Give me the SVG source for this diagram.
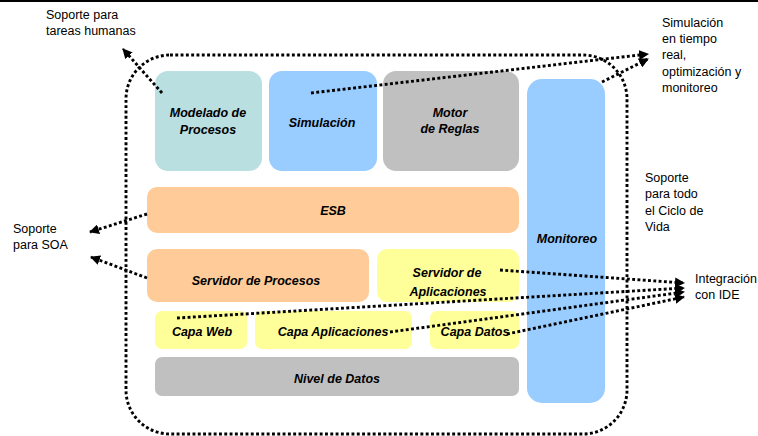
<svg xmlns="http://www.w3.org/2000/svg" width="758" height="436" viewBox="0 0 758 436">
  <style>
    .node { stroke: none; }
    .teal { fill: #b9dfe0; }
    .blue { fill: #99ccff; }
    .grey { fill: #c0c0c0; }
    .orange { fill: #ffcc99; }
    .yellow { fill: #ffff99; }
    .nt { font-family: "Liberation Sans", Arial, sans-serif; font-size: 12.5px; font-weight: bold; font-style: italic; fill: #000; text-anchor: middle; }
    .lbl { font-family: "Liberation Sans", Arial, sans-serif; font-size: 12.5px; fill: #000; }
    .dot { fill: none; stroke: #000; stroke-width: 2.9; stroke-dasharray: 2.9 2.4; }
  </style>
  <defs>
    <marker id="head" viewBox="0 0 10 10" refX="9" refY="5" markerUnits="userSpaceOnUse" markerWidth="10" markerHeight="10" orient="auto">
      <path d="M0,0 L10,5 L0,10 z" fill="#000"/>
    </marker>
  </defs>

  <rect x="0" y="0" width="758" height="436" fill="#fff"/>
  <rect x="0" y="0" width="758" height="2" fill="#000"/>

  <!-- lifecycle boundary -->
  <rect class="dot" x="126" y="55" width="501" height="379" rx="44" ry="44"/>

  <g id="modelado">
    <rect class="node teal" x="155" y="71" width="107" height="100" rx="13"/>
    <text class="nt" x="208" y="117">Modelado de</text>
    <text class="nt" x="208" y="134">Procesos</text>
  </g>
  <g id="simulacion">
    <rect class="node blue" x="269" y="71" width="108" height="100" rx="13"/>
    <text class="nt" x="322" y="127">Simulación</text>
  </g>
  <g id="motor">
    <rect class="node grey" x="383" y="71" width="136" height="100" rx="13"/>
    <text class="nt" x="450" y="117">Motor</text>
    <text class="nt" x="450" y="133">de Reglas</text>
  </g>
  <g id="monitoreo">
    <rect class="node blue" x="527" y="79" width="78" height="324" rx="15"/>
    <text class="nt" x="567" y="243">Monitoreo</text>
  </g>
  <g id="esb">
    <rect class="node orange" x="147" y="187" width="372" height="46" rx="10"/>
    <text class="nt" x="333" y="215">ESB</text>
  </g>
  <g id="servidor-procesos">
    <rect class="node orange" x="147" y="249" width="222" height="53" rx="10"/>
    <text class="nt" x="256" y="285">Servidor de Procesos</text>
  </g>
  <g id="servidor-aplicaciones">
    <rect class="node yellow" x="377" y="249" width="142" height="53" rx="10"/>
    <text class="nt" x="447" y="277">Servidor de</text>
    <text class="nt" x="448" y="296">Aplicaciones</text>
  </g>
  <g id="capa-web">
    <rect class="node yellow" x="155" y="311" width="92" height="38" rx="7"/>
    <text class="nt" x="202" y="336">Capa Web</text>
  </g>
  <g id="capa-aplicaciones">
    <rect class="node yellow" x="255" y="311" width="157" height="38" rx="7"/>
    <text class="nt" x="333" y="336">Capa Aplicaciones</text>
  </g>
  <g id="capa-datos">
    <rect class="node yellow" x="430" y="311" width="89" height="38" rx="7"/>
    <text class="nt" x="475" y="336">Capa Datos</text>
  </g>
  <g id="nivel-datos">
    <rect class="node grey" x="155" y="357" width="364" height="39" rx="7"/>
    <text class="nt" x="337" y="383">Nivel de Datos</text>
  </g>

  <!-- outside labels -->
  <g id="lbl-humanas">
    <text class="lbl" x="46" y="19">Soporte para</text>
    <text class="lbl" x="46" y="35">tareas humanas</text>
  </g>
  <g id="lbl-simulacion">
    <text class="lbl" x="662" y="27">Simulación</text>
    <text class="lbl" x="662" y="43">en tiempo</text>
    <text class="lbl" x="662" y="59">real,</text>
    <text class="lbl" x="662" y="76">optimización y</text>
    <text class="lbl" x="662" y="92">monitoreo</text>
  </g>
  <g id="lbl-ciclo">
    <text class="lbl" x="645" y="182">Soporte</text>
    <text class="lbl" x="645" y="198">para todo</text>
    <text class="lbl" x="645" y="215">el Ciclo de</text>
    <text class="lbl" x="645" y="231">Vida</text>
  </g>
  <g id="lbl-soa">
    <text class="lbl" x="13" y="233">Soporte</text>
    <text class="lbl" x="13" y="249">para SOA</text>
  </g>
  <g id="lbl-ide">
    <text class="lbl" x="695" y="283">Integración</text>
    <text class="lbl" x="695" y="299">con IDE</text>
  </g>

  <!-- connectors -->
  <g id="connectors">
    <line class="dot" x1="162" y1="93" x2="123" y2="49" marker-end="url(#head)"/>
    <line class="dot" x1="311" y1="93" x2="648" y2="54" marker-end="url(#head)"/>
    <line class="dot" x1="602" y1="82" x2="648" y2="59" marker-end="url(#head)"/>
    <line class="dot" x1="147" y1="214" x2="90" y2="232" marker-end="url(#head)"/>
    <line class="dot" x1="147" y1="278" x2="91" y2="257" marker-end="url(#head)"/>
    <line class="dot" x1="500" y1="270" x2="684" y2="283" marker-end="url(#head)"/>
    <line class="dot" x1="177" y1="318" x2="684" y2="288" marker-end="url(#head)"/>
    <line class="dot" x1="390" y1="332" x2="684" y2="292" marker-end="url(#head)"/>
    <line class="dot" x1="507" y1="334" x2="684" y2="297" marker-end="url(#head)"/>
  </g>
</svg>
